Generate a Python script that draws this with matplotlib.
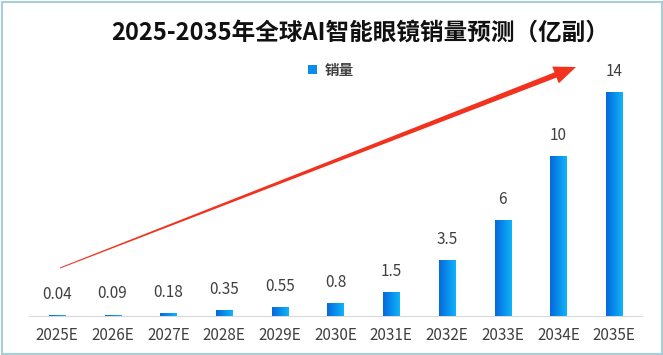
import numpy as np
import matplotlib
matplotlib.use("Agg")
import matplotlib.pyplot as plt
from matplotlib.colors import LinearSegmentedColormap
from matplotlib.patches import Polygon, Rectangle

plt.rcParams['font.family'] = ['Noto Sans CJK SC', 'DejaVu Sans']

years = ["2025E", "2026E", "2027E", "2028E", "2029E", "2030E",
         "2031E", "2032E", "2033E", "2034E", "2035E"]
sales = [0.04, 0.09, 0.18, 0.35, 0.55, 0.8, 1.5, 3.5, 6, 10, 14]
labels = ["0.04", "0.09", "0.18", "0.35", "0.55", "0.8", "1.5", "3.5", "6", "10", "14"]

W, H = 663, 355
fig = plt.figure(figsize=(W / 100, H / 100), dpi=100)
ax = fig.add_axes([29 / W, 1 - 316 / H, 613 / W, 256 / H])

x = np.arange(len(years))
bar_w = 0.29
grad = LinearSegmentedColormap.from_list("blu", ["#0668DC", "#0FB4F8"])
bars = ax.bar(x, sales, width=bar_w, color="#0A8CEB", label="销量", zorder=2)
g = np.linspace(0, 1, 64).reshape(1, -1)
for b in bars:
    x0, w, h = b.get_x(), b.get_width(), b.get_height()
    im = ax.imshow(g, cmap=grad, aspect="auto", extent=(x0, x0 + w, 0, h),
                   zorder=3, interpolation="bilinear")
    im.set_clip_path(b)

for xi, v, lab in zip(x, sales, labels):
    ax.annotate(lab, (xi, v), xytext=(0, 9), textcoords="offset points",
                ha="center", va="bottom", fontsize=11, color="#404040")

ax.set_xlim(-0.5, len(years) - 0.5)
ax.set_ylim(0, 16)
ax.set_xticks(x)
ax.set_xticklabels(years, fontsize=11, color="#404040")
ax.tick_params(axis="x", length=0, pad=8)
ax.set_yticks([])
for s in ["top", "right", "left"]:
    ax.spines[s].set_visible(False)
ax.spines["bottom"].set_color("#D9D9D9")
ax.set_facecolor("none")

leg = ax.legend(loc="center", bbox_to_anchor=(331 / W, 1 - 70 / H),
                bbox_transform=fig.transFigure, frameon=False,
                handlelength=0.6, handleheight=0.6, handletextpad=0.5,
                prop={"size": 10.5, "weight": "bold"})
for t in leg.get_texts():
    t.set_color("#404040")

fig.text(360 / W, 1 - 33 / H, "2025-2035年全球AI智能眼镜销量预测（亿副）",
         ha="center", va="center", fontsize=17, fontweight="bold", color="#111111")

# tapered red arrow (pixel coords of the reference)
tail = np.array([60.0, 268.0])
tip = np.array([576.0, 67.0])
u = (tip - tail) / np.linalg.norm(tip - tail)
n = np.array([-u[1], u[0]])
base = tip - 22 * u
pts = [tail + 0.5 * n, base + 2.8 * n, base + 9 * n, tip,
       base - 9 * n, base - 2.8 * n, tail - 0.5 * n]
pts = [(p[0] / W, 1 - p[1] / H) for p in pts]
fig.patches.append(Polygon(pts, closed=True, transform=fig.transFigure,
                           facecolor="#F2321E", edgecolor="none", zorder=5))

fig.patches.append(Rectangle((1.5 / W, 1.5 / H), 1 - 3 / W, 1 - 3 / H,
                             transform=fig.transFigure, fill=False,
                             edgecolor="#A9CFD6", linewidth=1.5))

fig.savefig("out.png", dpi=100)
